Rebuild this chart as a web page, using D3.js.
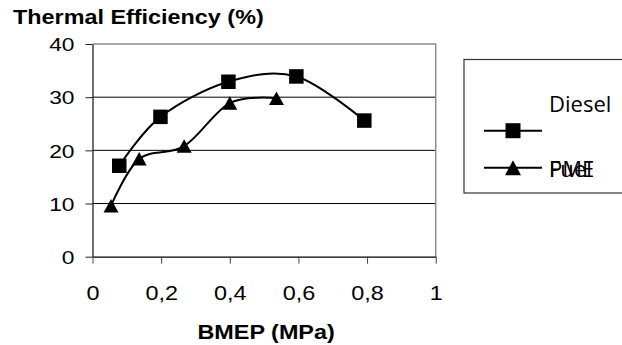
<!DOCTYPE html>
<html>
<head>
<meta charset="utf-8">
<script src="https://cdn.jsdelivr.net/npm/d3@7"></script>
<style>
  body { margin: 0; background: #fff; }
  svg { display: block; }
</style>
</head>
<body>
<svg id="chart" width="622" height="345"></svg>
<script>
// Thermal efficiency vs. brake mean effective pressure
const dieselBmep = [0.078, 0.198, 0.396, 0.594, 0.792];
const dieselEff  = [17.1, 26.3, 32.9, 33.9, 25.6];
const pmeBmep    = [0.054, 0.136, 0.267, 0.400, 0.536];
const pmeEff     = [9.6, 18.4, 20.8, 28.9, 29.8];
const yTicks = [0, 10, 20, 30, 40];
const xTicks = [0, 0.2, 0.4, 0.6, 0.8, 1];
const seriesNames = ["Diesel Fuel", "PME"];
const yTitle = "Thermal Efficiency (%)";
const xTitle = "BMEP (MPa)";

const svg = d3.select("#chart");
const SX = 1.2;              // horizontal stretch of the Arial text
const arial = "'Liberation Sans', Arial, sans-serif";

const x = d3.scaleLinear().domain([0, 1]).range([92.5, 435.7]);
const y = d3.scaleLinear().domain([0, 40]).range([256.7, 44]);

const comma = d3.formatLocale({ decimal: ",", thousands: ".", grouping: [3], currency: ["", ""] }).format("~g");

// gridlines (0 and 40 are covered by the axis and frame)
svg.append("g").selectAll("line")
  .data(yTicks.filter(t => t > 0 && t < 40))
  .join("line")
  .attr("x1", x(0)).attr("x2", x(1))
  .attr("y1", d => y(d)).attr("y2", d => y(d))
  .attr("stroke", "#000").attr("stroke-width", 1);

// top and right frame
svg.append("path")
  .attr("d", `M${x(0)},${y(40)}H${x(1)}V${y(0)}`)
  .attr("fill", "none").attr("stroke", "#8c8c8c").attr("stroke-width", 1.5);

// y axis
const yAxis = svg.append("g")
  .attr("transform", `translate(${x(0)},0)`)
  .call(d3.axisLeft(y).tickValues(yTicks).tickSize(7).tickSizeOuter(0).tickFormat(d3.format("d")));
yAxis.select(".domain").attr("stroke", "#222").attr("stroke-width", 1.3);
yAxis.selectAll(".tick line").attr("stroke", "#222");
yAxis.selectAll(".tick text")
  .attr("font-family", arial).attr("font-size", 19).attr("fill", "#000")
  .attr("x", -18 / SX).attr("dy", "0.35em")
  .attr("transform", `scale(${SX},1)`);

// x axis
const xAxis = svg.append("g")
  .attr("transform", `translate(0,${y(0)})`)
  .call(d3.axisBottom(x).tickValues(xTicks).tickSize(7).tickSizeOuter(0).tickFormat(comma));
xAxis.select(".domain").attr("stroke", "#000").attr("stroke-width", 1.3);
xAxis.selectAll(".tick line").attr("stroke", "#444");
xAxis.selectAll(".tick text")
  .attr("font-family", arial).attr("font-size", 19.5).attr("fill", "#000")
  .attr("y", 29).attr("dy", "0.71em")
  .attr("transform", `scale(${SX},1)`);

// titles
svg.append("text")
  .attr("transform", `translate(13,24) scale(${SX},1)`)
  .attr("font-family", arial).attr("font-weight", "bold").attr("font-size", 19.5)
  .text(yTitle);
svg.append("text")
  .attr("transform", `translate(${(x(0) + x(1)) / 2 + 2},339) scale(${SX},1)`)
  .attr("text-anchor", "middle")
  .attr("font-family", arial).attr("font-weight", "bold").attr("font-size", 19.5)
  .text(xTitle);

// markers
function square(cx, cy, s) {
  return `M${cx - s / 2},${cy - s / 2}h${s}v${s}h${-s}Z`;
}
function triangle(cx, cy, w, h) {
  return `M${cx},${cy - h / 2}L${cx + w / 2},${cy + h / 2}L${cx - w / 2},${cy + h / 2}Z`;
}

const line = d3.line()
  .x(d => x(d[0])).y(d => y(d[1]))
  .curve(d3.curveCardinal.tension(0));

const diesel = d3.zip(dieselBmep, dieselEff);
const pme = d3.zip(pmeBmep, pmeEff);

svg.append("path").attr("d", line(diesel))
  .attr("fill", "none").attr("stroke", "#000").attr("stroke-width", 2);
svg.append("path").attr("d", line(pme))
  .attr("fill", "none").attr("stroke", "#000").attr("stroke-width", 2);

svg.append("g").selectAll("path").data(diesel).join("path")
  .attr("d", d => square(x(d[0]), y(d[1]), 14.5)).attr("fill", "#000");
svg.append("g").selectAll("path").data(pme).join("path")
  .attr("d", d => triangle(x(d[0]), y(d[1]), 15, 13.5)).attr("fill", "#000");

// legend
const lg = svg.append("g");
lg.append("rect")
  .attr("x", 464).attr("y", 59.5).attr("width", 200).attr("height", 133.5)
  .attr("fill", "#fff").attr("stroke", "#333").attr("stroke-width", 1.2);

const legendFont = "'Open Sans', 'Noto Sans', sans-serif";
const LSX = 1.05;

// entry 1: squares
lg.append("line").attr("x1", 484).attr("x2", 542).attr("y1", 130.7).attr("y2", 130.7)
  .attr("stroke", "#000").attr("stroke-width", 2);
lg.append("path").attr("d", square(513, 130.7, 15)).attr("fill", "#000");
// entry 2: triangles
lg.append("line").attr("x1", 484).attr("x2", 542).attr("y1", 167.7).attr("y2", 167.7)
  .attr("stroke", "#000").attr("stroke-width", 2);
lg.append("path").attr("d", triangle(513, 167.7, 16, 15)).attr("fill", "#000");

const dieselWords = seriesNames[0].split(" ");
const legendTexts = [
  { t: dieselWords[0], y: 111.7 },
  { t: dieselWords[1], y: 176.7 },
  { t: seriesNames[1], y: 176.7 }
];
lg.selectAll("text.lbl").data(legendTexts).join("text")
  .attr("class", "lbl")
  .attr("transform", d => `translate(549,${d.y}) scale(${LSX},1)`)
  .attr("font-family", legendFont).attr("font-size", 21).attr("fill", "#000")
  .text(d => d.t);
</script>
</body>
</html>
